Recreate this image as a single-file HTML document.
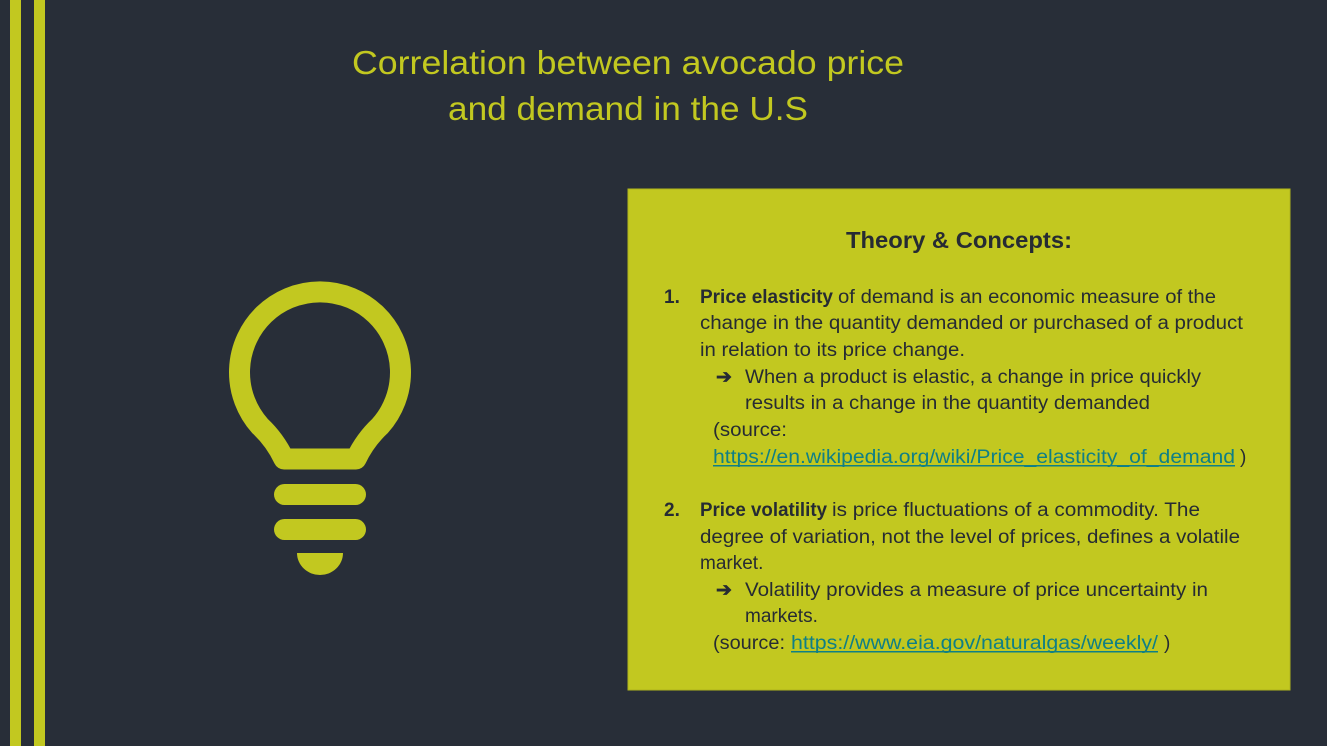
<!DOCTYPE html>
<html><head><meta charset="utf-8"><style>
html,body{margin:0;padding:0;background:#282e38;overflow:hidden}
svg{display:block;font-family:"Liberation Sans",sans-serif}
</style></head><body>
<svg width="1327" height="746" viewBox="0 0 1327 746">
<rect width="1327" height="746" fill="#282e38"/>
<rect x="10" y="0" width="11" height="746" fill="#c2c820"/>
<rect x="34" y="0" width="11" height="746" fill="#c2c820"/>
<g fill="#c2c820" font-size="33" text-anchor="middle">
<text x="628" y="74" textLength="552" lengthAdjust="spacingAndGlyphs">Correlation between avocado price</text>
<text x="628" y="120" textLength="360" lengthAdjust="spacingAndGlyphs">and demand in the U.S</text>
</g>
<g fill="#c2c820">
<path d="M284,459 Q275,440 260,426 A80.5,80.5 0 1 1 380,426 Q365,440 356,459 Z" fill="none" stroke="#c2c820" stroke-width="21" stroke-linejoin="round"/>
<rect x="274" y="484" width="92" height="21" rx="10.5"/>
<rect x="274" y="519" width="92" height="21" rx="10.5"/>
<path d="M297,553 L343,553 A23,22 0 0 1 297,553 Z"/>
</g>
<rect x="628" y="189" width="662" height="501" fill="#c2c820" stroke="#b0b51c" stroke-width="1"/>
<g fill="#262b33" font-size="19">
<text x="959" y="248" font-size="23" font-weight="bold" text-anchor="middle" textLength="226" lengthAdjust="spacingAndGlyphs">Theory &amp; Concepts:</text>
<text x="664" y="303" font-weight="bold">1.</text>
<text x="700" y="303" font-weight="bold" textLength="133" lengthAdjust="spacingAndGlyphs">Price elasticity</text>
<text x="838" y="303" textLength="378" lengthAdjust="spacingAndGlyphs">of demand is an economic measure of the</text>
<text x="700" y="329" textLength="543" lengthAdjust="spacingAndGlyphs">change in the quantity demanded or purchased of a product</text>
<text x="700" y="356" textLength="265" lengthAdjust="spacingAndGlyphs">in relation to its price change.</text>
<text x="716" y="383" font-weight="bold">➔</text>
<text x="745" y="383" textLength="456" lengthAdjust="spacingAndGlyphs">When a product is elastic, a change in price quickly</text>
<text x="745" y="409" textLength="405" lengthAdjust="spacingAndGlyphs">results in a change in the quantity demanded</text>
<text x="713" y="436" textLength="74" lengthAdjust="spacingAndGlyphs">(source:</text>
<text x="713" y="463" fill="#0f7f86" textLength="522" lengthAdjust="spacingAndGlyphs">https://en.wikipedia.org/wiki/Price_elasticity_of_demand</text>
<rect x="713" y="465" width="522" height="1.5" fill="#0f7f86"/>
<text x="1240" y="463">)</text>
<text x="664" y="516" font-weight="bold">2.</text>
<text x="700" y="516" font-weight="bold" textLength="127" lengthAdjust="spacingAndGlyphs">Price volatility</text>
<text x="832" y="516" textLength="368" lengthAdjust="spacingAndGlyphs">is price fluctuations of a commodity. The</text>
<text x="700" y="543" textLength="540" lengthAdjust="spacingAndGlyphs">degree of variation, not the level of prices, defines a volatile</text>
<text x="700" y="569">market.</text>
<text x="716" y="596" font-weight="bold">➔</text>
<text x="745" y="596" textLength="463" lengthAdjust="spacingAndGlyphs">Volatility provides a measure of price uncertainty in</text>
<text x="745" y="622">markets.</text>
<text x="713" y="649" textLength="72" lengthAdjust="spacingAndGlyphs">(source:</text>
<text x="791" y="649" fill="#0f7f86" textLength="367" lengthAdjust="spacingAndGlyphs">https://www.eia.gov/naturalgas/weekly/</text>
<rect x="791" y="651" width="367" height="1.5" fill="#0f7f86"/>
<text x="1164" y="649">)</text>
</g>
</svg>
</body></html>
